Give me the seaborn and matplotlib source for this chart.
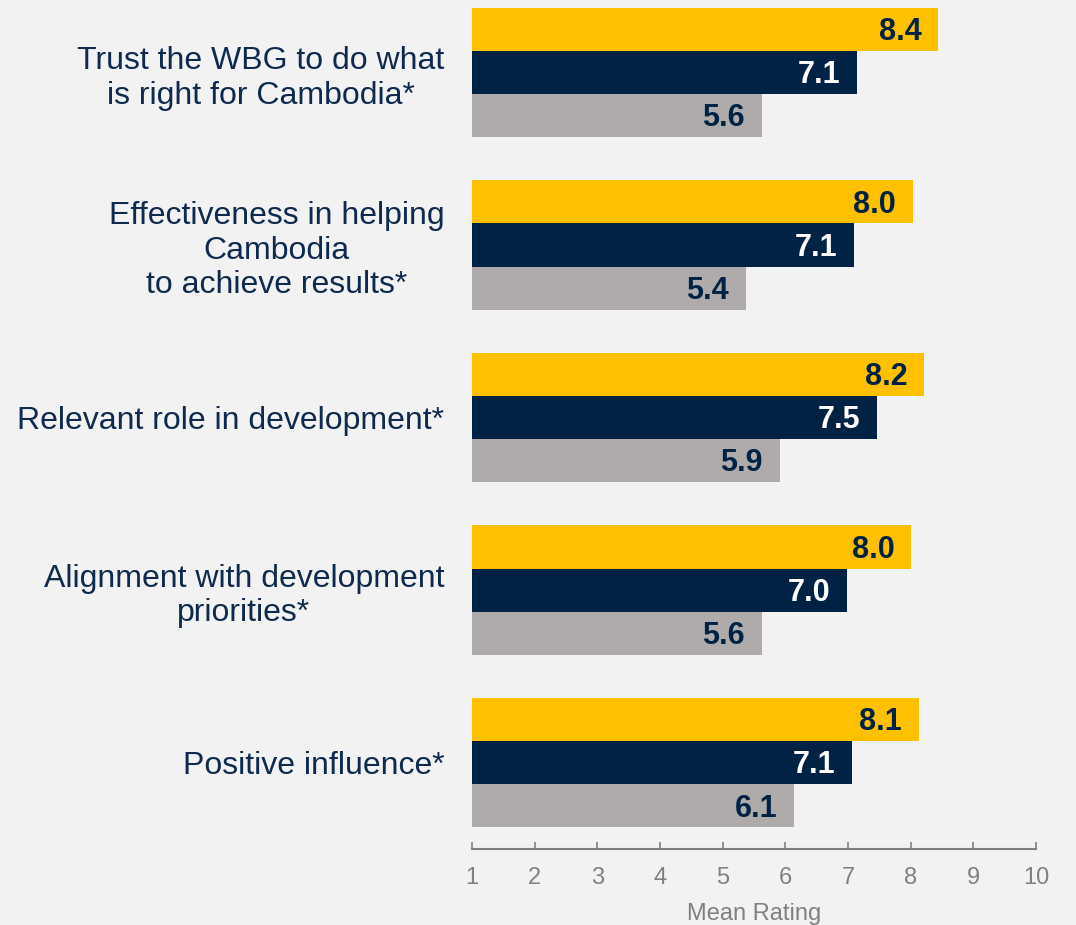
import pandas as pd
import matplotlib.pyplot as plt
import seaborn as sns

sns.set_theme(style="white")
plt.rcParams["font.family"] = ["Liberation Sans", "DejaVu Sans"]

categories = [
    "Trust the WBG to do what\nis right for Cambodia*",
    "Effectiveness in helping\nCambodia\nto achieve results*",
    "Relevant role in development*",
    "Alignment with development\npriorities*",
    "Positive influence*",
]
series_names = ["Series 1", "Series 2", "Series 3"]
series_1 = [8.44, 8.03, 8.22, 8.01, 8.13]
series_2 = [7.14, 7.09, 7.47, 6.99, 7.06]
series_3 = [5.62, 5.37, 5.91, 5.62, 6.14]
x_ticks = [1, 2, 3, 4, 5, 6, 7, 8, 9, 10]

colors = ["#FFC000", "#002345", "#AFABAB"]
label_colors = ["#002345", "white", "#002345"]
bg = "#F2F2F2"
navy = "#0E2A4D"
gray = "#808080"

df = pd.DataFrame({
    "Category": categories * 3,
    "Series": [s for s in series_names for _ in categories],
    "Rating": series_1 + series_2 + series_3,
})

fig = plt.figure(figsize=(10.76, 9.25), dpi=100, facecolor=bg)
ax = fig.add_axes([0.4387, 0.0822, 0.5241, 0.9178])
ax.set_facecolor(bg)

sns.barplot(
    data=df,
    y="Category",
    x="Rating",
    hue="Series",
    hue_order=series_names,
    palette=colors,
    saturation=1,
    width=0.75,
    linewidth=0,
    orient="h",
    legend=False,
    ax=ax,
)

for cont, tc in zip(ax.containers, label_colors):
    for p in cont.patches:
        ax.annotate(
            f"{p.get_width():.1f}",
            (p.get_width(), p.get_y() + p.get_height() / 2),
            xytext=(-12, -2),
            textcoords="offset points",
            ha="right",
            va="center",
            fontsize=22,
            fontweight="bold",
            color=tc,
        )

ax.set_xlim(1, 10)
ax.set_ylim(4.5, -0.42)
ax.set_xticks(x_ticks)
ax.set_xlabel("Mean Rating", fontsize=17, color=gray, labelpad=10)
ax.set_ylabel("")

for s in ["top", "right", "left"]:
    ax.spines[s].set_visible(False)
ax.spines["bottom"].set_color(gray)
ax.spines["bottom"].set_linewidth(1.5)

ax.tick_params(axis="x", direction="in", length=5, width=1.2, color=gray,
               labelsize=17, labelcolor=gray, pad=13, bottom=True)
ax.tick_params(axis="y", length=0, pad=20, labelsize=23, labelcolor=navy)
for t in ax.get_yticklabels():
    t.set_multialignment("center")

fig.savefig("out.png", dpi=100, facecolor=bg)
